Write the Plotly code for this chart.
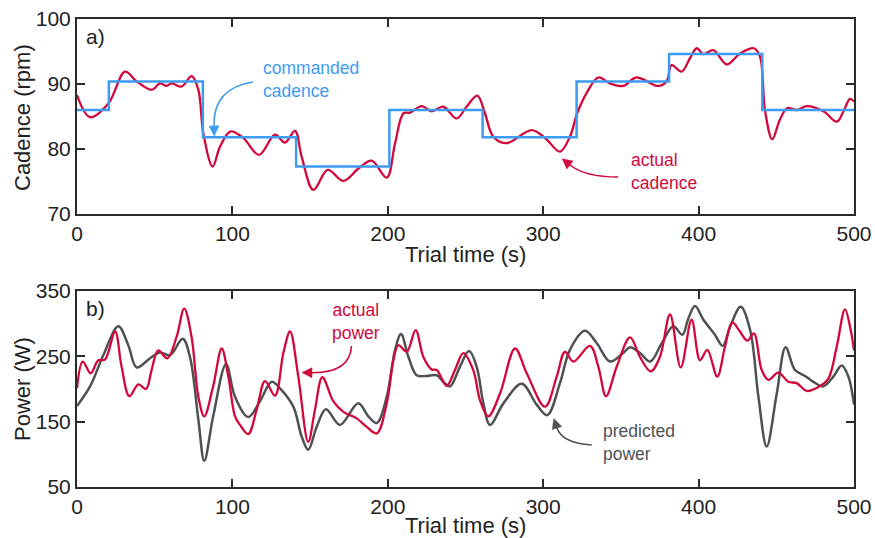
import plotly.graph_objects as go
from plotly.subplots import make_subplots
import math

# ---------------- data ----------------
cmd_t = [0, 20.5, 81, 141, 201, 261, 321.5, 381, 441, 500]
cmd_v = [86, 90.4, 81.8, 77.3, 86, 81.8, 90.4, 94.6, 86, 86]

cad_t = [0, 8.4, 20.2, 30.9, 38.4, 48.1, 53.4, 57.7, 60.9, 67.3, 73.8, 78.1, 81.3, 87.3, 92.1,
         98.9, 107.0, 117.1, 127.4, 133.8, 140.3, 144.6, 152.1, 161.3, 171.4, 181.1, 189.6, 199.3,
         204.7, 210.1, 214.3, 221.8, 228.2, 235.7, 244.3, 250.7, 257.6, 262.5, 267.9, 276.4, 292.6,
         301.2, 310.8, 317.2, 321.9, 327.9, 335.5, 342.9, 351.5, 360.0, 374.0, 379.4, 382.6, 389.1,
         394.5, 398.8, 403.1, 409.5, 418.1, 426.7, 435.6, 439.5, 442.7, 447.4, 452.3, 457.1, 463.1,
         469.6, 480.3, 488.9, 493.6, 497.4, 500]
cad_v = [88.3, 84.9, 87.0, 91.9, 90.4, 89.1, 90.1, 89.7, 90.1, 89.6, 91.2, 89.1, 82.4, 77.3, 80.4,
         82.7, 81.7, 79.1, 82.2, 81.0, 82.8, 78.8, 73.7, 76.8, 75.1, 77.0, 78.2, 75.6,
         80.9, 85.5, 85.6, 86.6, 85.8, 86.5, 84.7, 86.5, 88.2, 85.5, 81.9, 80.9, 82.9,
         81.7, 79.6, 81.9, 85.5, 88.6, 91.0, 90.1, 89.7, 91.0, 89.7, 90.4, 92.9, 91.9,
         94.0, 95.5, 94.6, 95.2, 93.0, 94.7, 95.5, 94.2, 86.0, 81.5, 84.5, 86.3, 86.0,
         86.6, 85.8, 84.2, 86.0, 87.7, 87.3]

pow_t = [0, 3.7, 8.8, 13.7, 18, 24.5, 28.7, 33.7, 39.5, 44.4, 48, 52.3, 58.1, 64.1, 69.0, 73.7,
         78.1, 81.9, 87.6, 93.1, 97.4, 101.7, 104.9, 110.2, 115.6, 121, 127.4, 132.8, 137.1, 142.4,
         148.8, 153.1, 157.9, 165, 171.4, 180, 186.4, 192.9, 199.3, 203.6, 206.8, 212.2, 217.9,
         222.9, 228.2, 231.5, 237.9, 243.2, 248.6, 255, 259.3, 264.6, 272.2, 281.9, 289.4, 301.2,
         308.7, 314, 319.4, 330.1, 335.5, 340.4, 347.3, 355.9, 362.3, 369.2, 375.1, 381.6, 388.5,
         395.5, 400.9, 405.6, 412, 417, 421.7, 426.6, 431.4, 435.6, 440.6, 444.9, 451.3, 457.8,
         463.1, 469.6, 477.1, 483.5, 488.9, 494.2, 497.9, 500]
pow_v = [201, 242, 224, 244, 245, 288, 234, 189, 207, 200, 229, 259, 247, 280, 323, 280,
         188, 158, 204, 262, 219, 158, 145, 131, 168, 212, 190, 255, 288, 219,
         119, 168, 218, 181, 165, 155, 142, 132, 178, 244, 267, 257, 290,
         249, 230, 229, 205, 229, 255, 229, 183, 158, 193, 262, 224, 173,
         219, 257, 242, 266, 234, 189, 234, 279, 249, 227, 249, 314, 233,
         306, 244, 260, 219, 265, 302, 288, 274, 285, 229, 214, 225, 211,
         209, 197, 203, 216, 265, 322, 290, 259]

pred_t = [0, 8.4, 17, 26.6, 33, 38.4, 47, 53.4, 59.9, 68, 72.7, 78.1, 81.9, 87.6, 95.9, 101.7,
          110.2, 117.7, 125.3, 130.6, 139.2, 144.6, 148.8, 154.2, 160.2, 169.2, 181, 187.5, 192.9,
          199.3, 204.7, 208.5, 213.3, 218.6, 225, 231.5, 235.7, 240, 246.4, 252.3, 257.2, 261.5,
          265.8, 274.4, 286.2, 295.8, 302.6, 310.8, 317.2, 326.9, 334.5, 343, 351.5, 355.9, 362.3,
          368.8, 376.3, 383.7, 389.6, 393.4, 397.7, 403.1, 410.5, 415.5, 420.2, 427.1, 433.2,
          438.5, 443.8, 450.3, 456, 462, 468.5, 473.8, 480.3, 486.7, 492.1, 496.4, 500]
pred_v = [174, 204, 252, 296, 267, 233, 247, 256, 252, 277, 249, 153, 90, 158, 238, 188,
          157, 181, 211, 201, 173, 127, 107, 142, 169, 145, 178, 158, 148,
          188, 260, 284, 249, 221, 220, 221, 211, 204, 234, 258, 234, 178,
          145, 178, 208, 176, 160, 209, 260, 289, 270, 242, 255, 264, 255,
          242, 270, 296, 283, 308, 327, 306, 283, 266, 295, 326, 290,
          188, 112, 193, 264, 229, 220, 211, 204, 219, 236, 219, 176]

x_ticks = [0, 100, 200, 300, 400, 500]
cad_ticks = [70, 80, 90, 100]
pow_ticks = [50, 150, 250, 350]

# ---------------- style ----------------
RED = "#D1083C"
BLUE = "#3D9BF0"
GREY = "#4F5254"
AX = "#2B2B2B"
FONT = "Liberation Sans, Arial, sans-serif"

W, H = 875, 538
ML, MR, MT, MB = 77, 21, 19, 51
PW, PH = W - ML - MR, H - MT - MB

fig = make_subplots(rows=2, cols=1, vertical_spacing=0.0)

fig.add_trace(go.Scatter(x=cad_t, y=cad_v, mode="lines",
                         line=dict(color=RED, width=2.3, shape="spline", smoothing=1.0)),
              row=1, col=1)
fig.add_trace(go.Scatter(x=cmd_t, y=cmd_v, mode="lines",
                         line=dict(color=BLUE, width=2.5, shape="hv")), row=1, col=1)
fig.add_trace(go.Scatter(x=pred_t, y=pred_v, mode="lines",
                         line=dict(color=GREY, width=2.5, shape="spline", smoothing=1.0)),
              row=2, col=1)
fig.add_trace(go.Scatter(x=pow_t, y=pow_v, mode="lines",
                         line=dict(color=RED, width=2.3, shape="spline", smoothing=1.0)),
              row=2, col=1)

axis_common = dict(showline=True, linecolor=AX, linewidth=2, mirror="ticks", ticks="inside",
                   ticklen=8, tickwidth=2, tickcolor=AX, showgrid=False, zeroline=False,
                   automargin=False,
                   tickfont=dict(family=FONT, size=21, color="#222"))

fig.update_xaxes(range=[0, 500], tickvals=x_ticks, **axis_common)
fig.update_yaxes(range=[70, 100], tickvals=cad_ticks, row=1, col=1, **axis_common)
fig.update_yaxes(range=[50, 350], tickvals=pow_ticks, row=2, col=1, **axis_common)

fig.update_layout(
    xaxis=dict(domain=[0, 1]), xaxis2=dict(domain=[0, 1]),
    yaxis=dict(domain=[(487 - 214) / PH, 1.0]),
    yaxis2=dict(domain=[0, (487 - 291) / PH]),
)


# pixel -> paper helpers for annotation decorations
def px(xp):
    return (xp - ML) / PW


def py(yp):
    return (H - MB - yp) / PH


def curved_arrow(p0, p1, p2, color, head_len=10, head_w=10):
    path = "M {},{} Q {},{} {},{}".format(px(p0[0]), py(p0[1]), px(p1[0]), py(p1[1]),
                                          px(p2[0]), py(p2[1]))
    fig.add_shape(type="path", path=path, xref="paper", yref="paper",
                  line=dict(color=color, width=1.6))
    dx, dy = p2[0] - p1[0], p2[1] - p1[1]
    n = math.hypot(dx, dy)
    ux, uy = dx / n, dy / n
    tip = (p2[0] + ux * head_len, p2[1] + uy * head_len)
    b1 = (p2[0] - uy * head_w / 2, p2[1] + ux * head_w / 2)
    b2 = (p2[0] + uy * head_w / 2, p2[1] - ux * head_w / 2)
    tri = "M {},{} L {},{} L {},{} Z".format(px(tip[0]), py(tip[1]), px(b1[0]), py(b1[1]),
                                             px(b2[0]), py(b2[1]))
    fig.add_shape(type="path", path=tri, xref="paper", yref="paper",
                  line=dict(color=color, width=0.5), fillcolor=color)


def label(text, x, y, color, xanchor="left", size=17.5, angle=0):
    fig.add_annotation(text=text, x=px(x), y=py(y), xref="paper", yref="paper",
                       xanchor=xanchor, yanchor="middle", showarrow=False, align=xanchor,
                       textangle=angle, font=dict(family=FONT, size=size, color=color))


# axis titles
label("Trial time (s)", 465, 254, "#222", xanchor="center", size=22)
label("Trial time (s)", 465, 525, "#222", xanchor="center", size=22)
label("Cadence (rpm)", 22, 117, "#222", xanchor="center", size=22, angle=-90)
label("Power (W)", 22, 389, "#222", xanchor="center", size=22, angle=-90)

label("commanded<br>cadence", 261, 79, BLUE)
label("actual<br>cadence", 629, 172, RED)
label("actual<br>power", 356, 322, RED, xanchor="center")
label("predicted<br>power", 601, 442, GREY)
label("a)", 84, 37, "#222", size=21)
label("b)", 84, 308, "#222", size=21)

curved_arrow((253, 82), (213, 88), (214, 126), BLUE)
curved_arrow((618, 177), (585, 177), (570, 165), RED)
curved_arrow((351.5, 346), (350, 373), (312, 372.7), RED)
curved_arrow((591.7, 445), (562, 443), (557, 428), GREY)

fig.update_layout(width=W, height=H, margin=dict(l=ML, r=MR, t=MT, b=MB),
                  plot_bgcolor="white", paper_bgcolor="white", showlegend=False,
                  font=dict(family=FONT, color="#222"))

fig.write_html("out.html")
